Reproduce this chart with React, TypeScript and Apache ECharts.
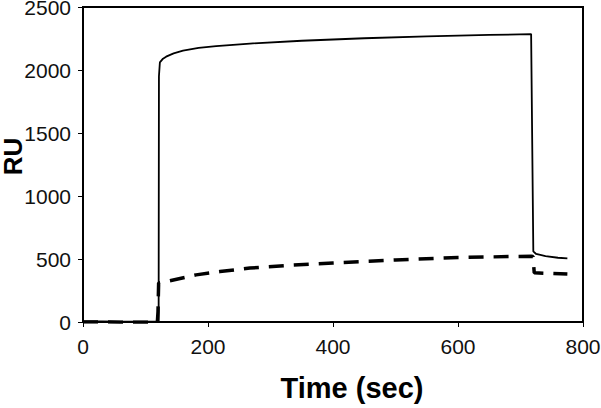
import React, { useEffect, useRef } from "react";
import * as echarts from "echarts";

const solidTimes = [0, 30, 60, 90, 118, 121, 121.5, 123, 128, 133, 145, 160, 185, 213, 267, 350, 450, 550, 650, 717, 720.5, 725, 740, 760, 775];
const solidValues = [5, 4, 3, 2, 2, 2, 1950, 2060, 2090, 2106, 2132, 2153, 2175, 2190, 2210, 2232, 2252, 2267, 2278, 2285, 560, 540, 522, 510, 505];

const dashTimes = [0, 30, 60, 90, 119, 120, 121, 139, 181, 219, 267, 330, 400, 500, 600, 717, 720, 722, 775];
const dashValues = [0, 0, -2, -2, 0, 80, 310, 327, 374, 400, 428, 450, 468, 492, 512, 522, 520, 390, 380];

const xTicks = [0, 200, 400, 600, 800];
const yTicks = [0, 500, 1000, 1500, 2000, 2500];

const FONT = "'Liberation Sans', Arial, sans-serif";

export default function App() {
  const ref = useRef<HTMLDivElement>(null);
  useEffect(() => {
    const chart = echarts.init(ref.current!, null, { renderer: "svg" });
    const solid = solidTimes.map((t, i) => [t, solidValues[i]]);
    const dashed = dashTimes.map((t, i) => [t, dashValues[i]]);
    chart.setOption({
      animation: false,
      grid: {
        left: 83,
        top: 7,
        right: 18,
        bottom: 86,
        containLabel: false,
        outerBoundsMode: "none",
        show: true,
        borderColor: "#000",
        borderWidth: 2,
        backgroundColor: "#fff",
      },
      xAxis: {
        type: "value",
        min: xTicks[0],
        max: xTicks[xTicks.length - 1],
        interval: 200,
        splitLine: { show: false },
        axisLine: { show: true, lineStyle: { color: "#000", width: 2 } },
        axisTick: { show: true, inside: false, length: 5, lineStyle: { color: "#000", width: 1 } },
        axisLabel: { color: "#111", fontSize: 21, fontFamily: FONT, margin: 14, formatter: (v: number) => String(v) },
      },
      yAxis: {
        type: "value",
        min: yTicks[0],
        max: yTicks[yTicks.length - 1],
        interval: 500,
        name: "RU",
        nameLocation: "middle",
        nameRotate: 90,
        nameGap: 57,
        nameMoveOverlap: false,
        nameTextStyle: { fontSize: 26, fontWeight: "bold", fontFamily: FONT, color: "#000", padding: [0, 0, 0, 16] },
        splitLine: { show: false },
        axisLine: { show: true, lineStyle: { color: "#000", width: 2 } },
        axisTick: { show: true, inside: false, length: 5, lineStyle: { color: "#000", width: 1 } },
        axisLabel: { color: "#111", fontSize: 21, fontFamily: FONT, margin: 12, formatter: (v: number) => String(v) },
      },
      graphic: [
        {
          type: "text",
          x: 352,
          y: 388,
          style: {
            text: "Time (sec)",
            font: `bold 29px ${FONT}`,
            fill: "#000",
            align: "center",
            verticalAlign: "middle",
          },
        },
      ],
      series: [
        {
          type: "line",
          data: solid,
          showSymbol: false,
          smooth: false,
          lineStyle: { color: "#000", width: 1.8 },
          z: 3,
        },
        {
          type: "line",
          data: dashed,
          showSymbol: false,
          smooth: false,
          lineStyle: { color: "#000", width: 3.5, type: [15, 10] },
          z: 2,
        },
      ],
    });
    return () => chart.dispose();
  }, []);
  return <div ref={ref} style={{ width: 601, height: 408, position: "absolute", left: 0, top: 0 }} />;
}
